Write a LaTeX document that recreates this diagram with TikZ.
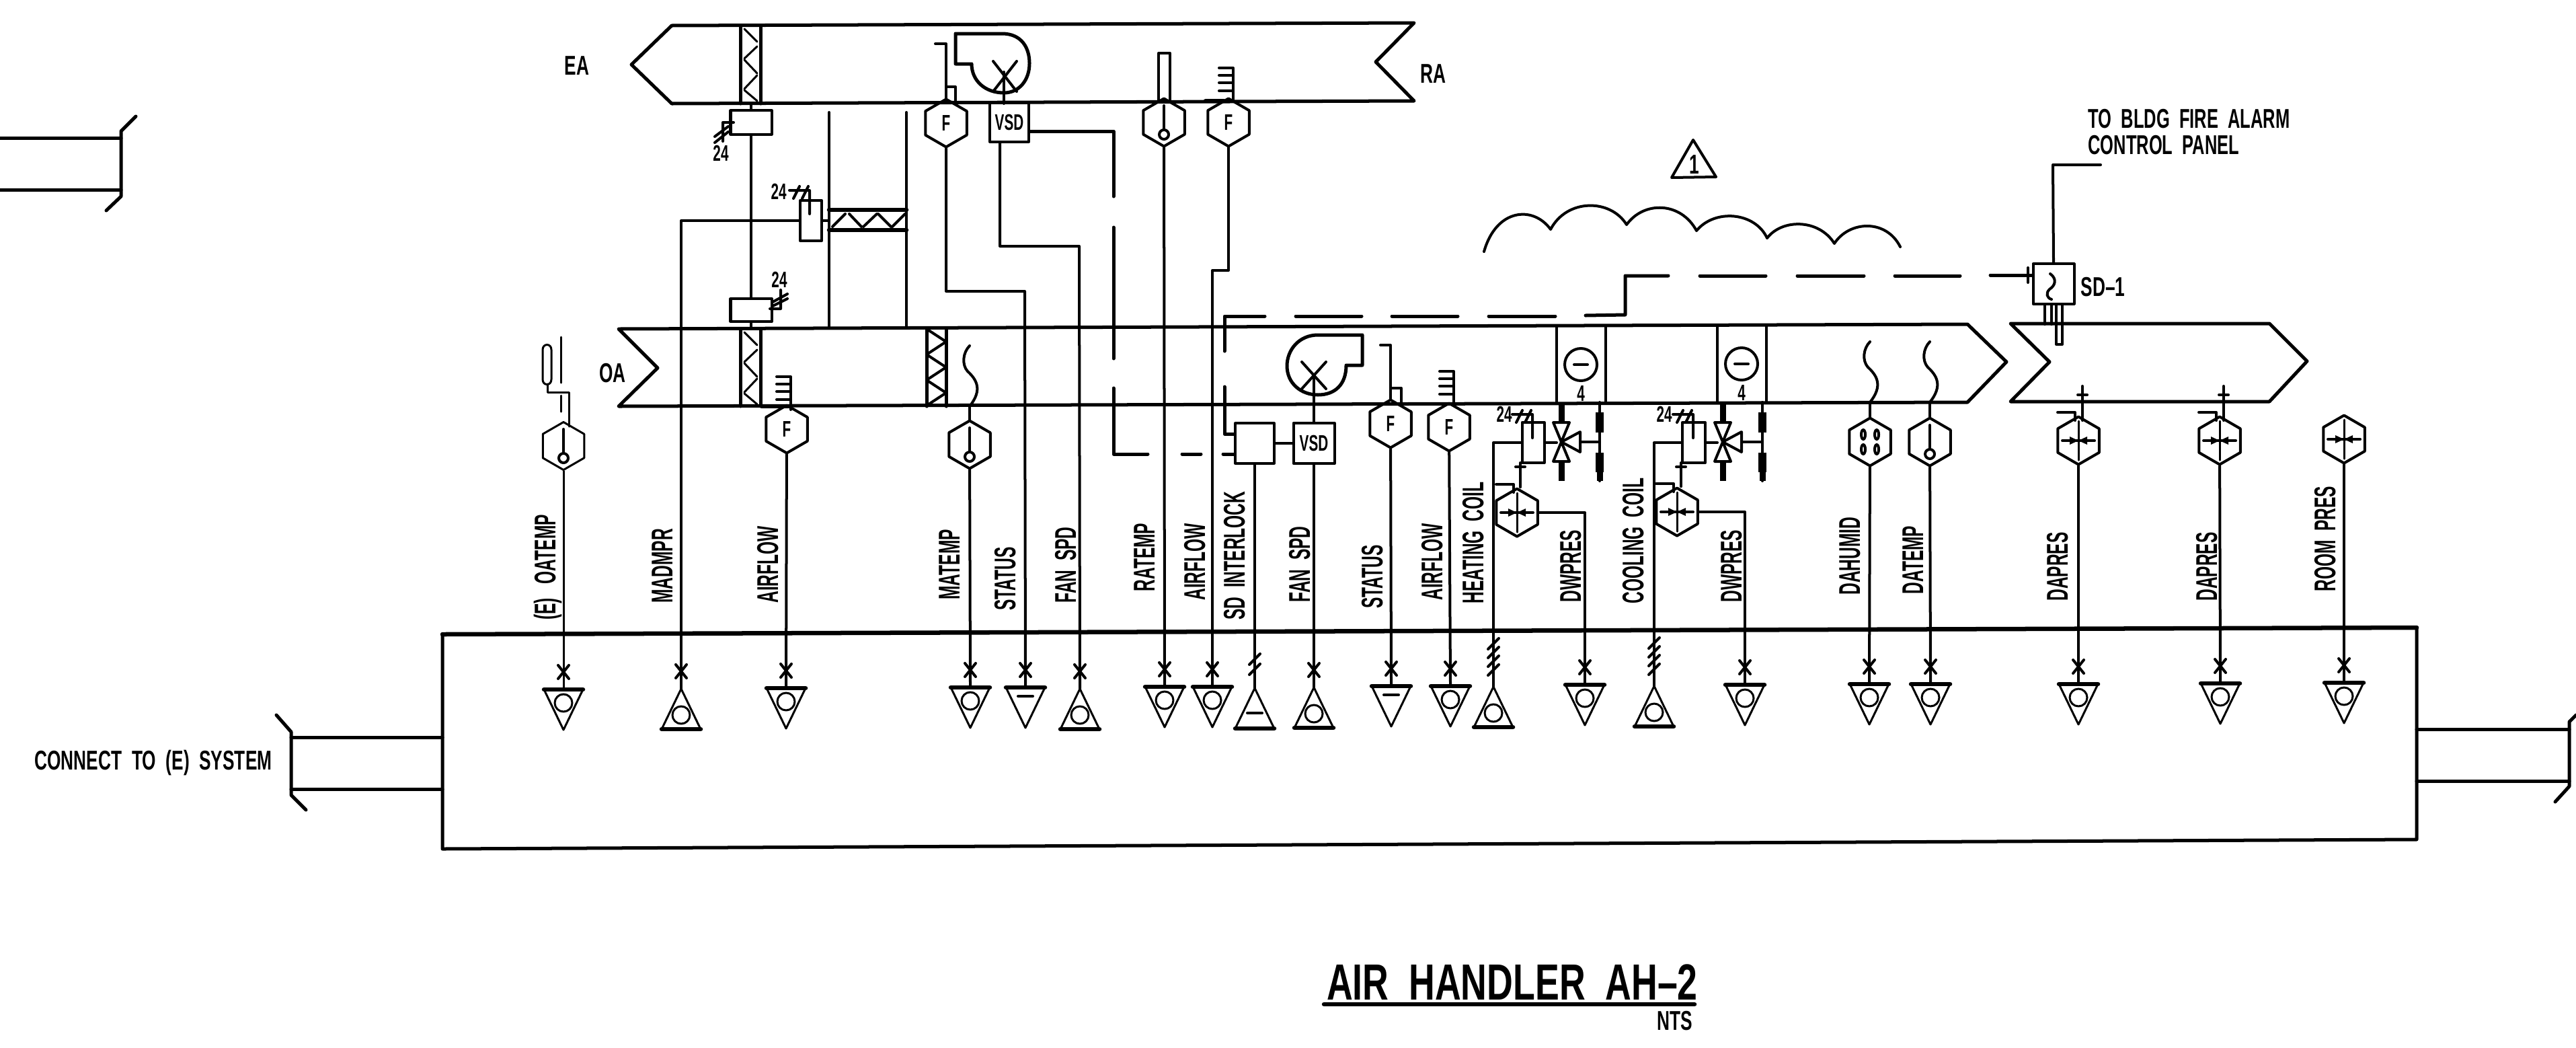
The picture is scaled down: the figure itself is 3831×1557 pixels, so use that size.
\documentclass[tikz,border=0pt]{standalone}
\usepackage{fontspec}
\setmainfont{Liberation Sans}
\usetikzlibrary{shapes.geometric}
\tikzset{
	xmark/.pic={\draw[wire] (-8,-10) -- (8,10) (8,-10) -- (-8,10);},
	slash/.pic={\draw[wire] (-8,8) -- (8,-8);},
	dnO/.pic={\coordinate (-top) at (0,0);
		\draw[fine] (-29,0) -- (0,60) -- (29,0);
		\draw[bar] (-29,0) -- (29,0);
		\draw[fine] (0,20) circle [radius=13];
		\pic at (0,-26) {xmark};},
	dnBar/.pic={\coordinate (-top) at (0,0);
		\draw[fine] (-29,0) -- (0,60) -- (29,0);
		\draw[bar] (-29,0) -- (29,0);
		\draw[wire] (-11,13) -- (11,13);
		\pic at (0,-26) {xmark};},
	upO/.pic={\coordinate (-top) at (0,0);
		\draw[fine] (-29,60) -- (0,0) -- (29,60);
		\draw[bar] (-29,60) -- (29,60);
		\draw[fine] (0,39) circle [radius=13];
		\pic at (0,-26) {xmark};},
	upOfour/.pic={\coordinate (-top) at (0,0);
		\draw[fine] (-29,60) -- (0,0) -- (29,60);
		\draw[bar] (-29,60) -- (29,60);
		\draw[fine] (0,39) circle [radius=13];
		\pic at (0,-64) {slash};
		\pic at (0,-51) {slash};
		\pic at (0,-38) {slash};
		\pic at (0,-25) {slash};},
	upBartwo/.pic={\coordinate (-top) at (0,0);
		\draw[fine] (-29,60) -- (0,0) -- (29,60);
		\draw[bar] (-29,60) -- (29,60);
		\draw[wire] (-11,37) -- (11,37);
		\pic at (0,-43) {slash};
		\pic at (0,-28) {slash};},
	wave/.pic={\draw[wire] (0,0) .. controls (20,-25) and (10,-40) .. (-3,-52) .. controls (-12,-62) and (-10,-80) .. (0,-90);},
	bulbmark/.pic={\draw[wire] (0,-25) -- (0,11);
		\draw[wire,fill=white] (0,18) circle [radius=7];},
	dpmark/.pic={\draw[fine] (0,-29) -- (0,29);
		\draw[wire] (-24,0) -- (24,0);
		\fill (-13,-6) -- (0,0) -- (-13,6) -- cycle (13,-6) -- (0,0) -- (13,6) -- cycle;},
	humidmark/.pic={\draw[wire] (-10,-11) ellipse [x radius=3, y radius=7] (10,-11) ellipse [x radius=3, y radius=7] (-10,11) ellipse [x radius=3, y radius=7] (10,11) ellipse [x radius=3, y radius=7];},
	dpstub/.pic={\draw[wire] (-31,-42) -- (-5,-42) -- (-5,-30);},
	comb/.pic={\draw[wire] (0,0) -- (0,-49) -- (-21,-49) (0,-38) -- (-21,-38) (0,-27) -- (-21,-27) (0,-15) -- (-21,-15);},
	vanes/.pic={\draw[fine] (-10,5) -- (9,24) (9,31) -- (-10,49) (-10,51) -- (9,71) (9,74) -- (-10,94) (-10,96) -- (9,112);},
	twentyfour/.pic={\draw[wire] (14,20) -- (14,-15) -- (-16,-15) (-10,-3) -- (-1,-21) (3,-3) -- (12,-21);},
	coilset/.pic={\draw[heavy] (0,-58) -- (0,-28) (0,30) -- (0,59);
		\draw[wire] (-12,-28) -- (12,-28) -- (-12,30) -- (12,30) -- cycle;
		\draw[wire] (0,1) -- (28,-14) -- (28,16) -- cycle;
		\draw[wire] (28,1) -- (#1,1) (#1,-58) -- (#1,59);
		\draw[rail] (#1,-43) -- (#1,-13) (#1,17) -- (#1,46);
		\draw[heavy] (#1,46) -- (#1,59);},
	coilbody/.pic={\draw[wire] (-36,-56) -- (-36,56) (37,-56) -- (37,56);
		\draw[wire] (0,0) circle [radius=24];
		\draw[wire] (-10,0) -- (10,0);}
}
\begin{document}
\begin{tikzpicture}[x=.01cm,
			y=-.01cm,
			line cap=round,
			line join=round,
			duct/.style={line width=.05cm},
			wire/.style={line width=.04cm},
			fine/.style={line width=.03cm},
			bar/.style={line width=.065cm},
			heavy/.style={line width=.09cm, line cap=butt},
			rail/.style={line width=.12cm, line cap=butt},
			ctl/.style={line width=.05cm},
			box/.style={draw, line width=.04cm, inner sep=0pt},
			hex/.style={draw, line width=.04cm, regular polygon, regular polygon sides=6, shape border rotate=30, minimum size=.71cm, inner sep=0pt},
			mini/.style={font=\fontsize{9.5}{11}\selectfont\bfseries, xscale=.62},
			tag/.style={rotate=90, anchor=west, inner sep=0pt, xscale=.55, text height=.32cm, text depth=0pt, font=\fontsize{12.7}{14}\selectfont\bfseries},
			note/.style={inner sep=0pt, xscale=.65, font=\fontsize{11.5}{13}\selectfont\bfseries},
			heading/.style={inner sep=0pt, xscale=.71, font=\fontsize{21.5}{24}\selectfont\bfseries}]
	\useasboundingbox (0,0) rectangle (3831,1557);
	\draw[duct] (999,38) -- (2103,34) -- (2046,92) -- (2103,150) -- (999,154) -- (939,96) -- cycle;
	\draw[duct] (920,489) -- (2926,482) -- (2984,538) -- (2926,598) -- (920,604) -- (978,547) -- cycle;
	\draw[duct] (2990,481) -- (3375,481) -- (3431,537) -- (3375,597) -- (2990,597) -- (3048,538) -- cycle;
	\draw[bar] (658,943) -- (3594,933);
	\draw[duct] (658,943) -- (658,1262) -- (3594,1248) -- (3594,933);
	\draw[duct] (0,205) -- (180,205);
	\draw[duct] (0,282) -- (180,282);
	\draw[duct] (202,173) -- (180,195) -- (180,292) -- (158,313);
	\draw[duct] (433,1096) -- (658,1096);
	\draw[duct] (433,1173) -- (658,1173);
	\draw[duct] (411,1063) -- (433,1088) -- (433,1182) -- (455,1204);
	\draw[duct] (3594,1084) -- (3821,1084);
	\draw[duct] (3594,1161) -- (3821,1161);
	\draw[duct] (3831,1063) -- (3821,1073) -- (3821,1169) -- (3800,1192);

	\node at (858,98) (ealabel) [note] {EA};
	\node at (911,555) (oalabel) [note] {OA};
	\node at (2131,110) (ralabel) [note] {RA};
	\node at (3105,177) (alarmtop) [note, anchor=west, xscale=.97] {TO~~BLDG~~FIRE~~ALARM};
	\node at (3105,216) (alarmlow) [note, anchor=west, xscale=.97] {CONTROL~~PANEL};
	\node at (3094,427) (sdlabel) [note, anchor=west] {SD--1};
	\node at (228,1134) (connlabel) [note] {CONNECT~~TO~~(E)~~SYSTEM};
	\node at (2249,1460) (title) [heading] {AIR~~HANDLER~~AH--2};
	\node at (2491,1518) (ntslabel) [note] {NTS};
	\draw[bar] (1969,1493) -- (2520,1493);
	\draw[wire] (2518,208) -- (2552,263) -- (2486,264) -- cycle;
	\node at (2520,245) (rev) [note] {1};

	\draw[wire] (2207,374) .. controls (2225,310) and (2280,305) .. (2306,341) .. controls (2330,295) and (2395,295) .. (2419,334) .. controls (2445,298) and (2500,300) .. (2523,343) .. controls (2550,310) and (2610,315) .. (2628,354) .. controls (2650,325) and (2705,325) .. (2728,362) .. controls (2750,328) and (2805,325) .. (2826,367);

	\pic (t1) at (838,1025) {dnO};
	\pic (t2) at (1013,1024) {upO};
	\pic (t3) at (1169,1023) {dnO};
	\pic (t4) at (1443,1022) {dnO};
	\pic (t5) at (1525,1022) {dnBar};
	\pic (t6) at (1606,1024) {upO};
	\pic (t7) at (1732,1021) {dnO};
	\pic (t8) at (1803,1021) {dnO};
	\pic (t9) at (1866,1023) {upBartwo};
	\pic (t10) at (1954,1022) {upO};
	\pic (t11) at (2069,1020) {dnBar};
	\pic (t12) at (2157,1020) {dnO};
	\pic (t13) at (2221,1021) {upOfour};
	\pic (t14) at (2357,1018) {dnO};
	\pic (t15) at (2460,1020) {upOfour};
	\pic (t16) at (2595,1018) {dnO};
	\pic (t17) at (2780,1017) {dnO};
	\pic (t18) at (2871,1017) {dnO};
	\pic (t19) at (3091,1017) {dnO};
	\pic (t20) at (3302,1016) {dnO};
	\pic (t21) at (3486,1015) {dnO};

	\node at (810,922) (l1) [tag] {(E)~~~OATEMP};
	\node at (984,897) (l2) [tag] {MADMPR};
	\node at (1141,897) (l3) [tag] {AIRFLOW};
	\node at (1411,892) (l4) [tag] {MATEMP};
	\node at (1494,908) (l5) [tag] {STATUS};
	\node at (1584,897) (l6) [tag] {FAN~~SPD};
	\node at (1701,880) (l7) [tag] {RATEMP};
	\node at (1776,893) (l8) [tag] {AIRFLOW};
	\node at (1835,922) (l9) [tag] {SD~~INTERLOCK};
	\node at (1932,896) (l10) [tag] {FAN~~SPD};
	\node at (2040,905) (l11) [tag] {STATUS};
	\node at (2129,893) (l12) [tag] {AIRFLOW};
	\node at (2190,898) (l13) [tag] {HEATING~~COIL};
	\node at (2335,896) (l14) [tag] {DWPRES};
	\node at (2428,898) (l15) [tag] {COOLING~~COIL};
	\node at (2574,896) (l16) [tag] {DWPRES};
	\node at (2750,885) (l17) [tag] {DAHUMID};
	\node at (2844,884) (l18) [tag] {DATEMP};
	\node at (3059,894) (l19) [tag] {DAPRES};
	\node at (3281,894) (l20) [tag] {DAPRES};
	\node at (3457,880) (l21) [tag] {ROOM~~PRES};

	\node at (838,663) (hoat) [hex, line width=.03cm] {};
	\node at (1170,638) (haf1) [hex] {};
	\node at (1170,638) (haf1text) [mini] {F};
	\node at (1442,661) (hmat) [hex] {};
	\node at (1407,183) (hst1) [hex] {};
	\node at (1407,183) (hst1text) [mini] {F};
	\node at (1731,182) (hrat) [hex] {};
	\node at (1827,182) (haf2) [hex] {};
	\node at (1827,182) (haf2text) [mini] {F};
	\node at (2068,630) (hst2) [hex] {};
	\node at (2068,630) (hst2text) [mini] {F};
	\node at (2155,635) (haf3) [hex] {};
	\node at (2155,635) (haf3text) [mini] {F};
	\node at (2256,762) (hdp1) [hex] {};
	\node at (2494,761) (hdp2) [hex] {};
	\node at (2781,657) (hhum) [hex] {};
	\node at (2870,657) (hdat) [hex] {};
	\node at (3091,655) (hdp3) [hex] {};
	\node at (3301,655) (hdp4) [hex] {};
	\node at (3486,653) (hdp5) [hex] {};
	\pic at (hoat) {bulbmark};
	\pic at (hmat) {bulbmark};
	\pic at (hrat) {bulbmark};
	\pic at (hdat) {bulbmark};
	\pic at (hhum) {humidmark};
	\pic at (hdp1) {dpmark};
	\pic at (hdp2) {dpmark};
	\pic at (hdp3) {dpmark};
	\pic at (hdp4) {dpmark};
	\pic at (hdp5) {dpmark};
	\pic at (hdp1) {dpstub};
	\pic at (hdp2) {dpstub};
	\pic at (hdp3) {dpstub};
	\pic at (hdp4) {dpstub};

	\node at (1501,182) (vsd1) [box, minimum width=.58cm, minimum height=.57cm] {};
	\node at (1501,182) (vsd1text) [mini] {VSD};
	\node at (1954,659) (vsd2) [box, minimum width=.61cm, minimum height=.6cm] {};
	\node at (1954,659) (vsd2text) [mini] {VSD};
	\node at (1866,659) (sdbox) [box, minimum width=.58cm, minimum height=.59cm] {};
	\node at (1117,182) (ea act) [box, minimum width=.61cm, minimum height=.35cm] {};
	\node at (1117,461) (oa act) [box, minimum width=.61cm, minimum height=.34cm] {};
	\node at (1206,328) (ma act) [box, minimum width=.32cm, minimum height=.6cm] {};
	\node at (2280,658) (hc act) [box, minimum width=.33cm, minimum height=.6cm] {};
	\node at (2519,658) (cc act) [box, minimum width=.34cm, minimum height=.6cm] {};
	\node at (3054,422) (sd1) [box, minimum width=.61cm, minimum height=.59cm] {};

	\draw[wire] (1117,154) -- (ea act);
	\draw[wire] (ea act) -- (oa act);
	\draw[wire] (oa act) -- (1117,489);
	\draw[wire] (ma act.west) -| (t2-top);
	\draw[wire] (ma act.east) -- (1233,328);
	\draw[wire] (1233,167) -- (1233,487);
	\draw[wire] (1348,167) -- (1348,487);
	\draw[bar] (1233,312) -- (1348,312);
	\draw[bar] (1233,342) -- (1348,342);
	\draw[wire] (1238,337) -- (1257,318) (1263,318) -- (1281,337) (1284,337) -- (1304,318) (1306,318) -- (1325,337) (1327,337) -- (1346,318);
	\draw[duct] (1101,38) -- (1101,154) (1131,38) -- (1131,154);
	\draw[duct] (1101,489) -- (1101,604) (1131,489) -- (1131,604);
	\pic at (1117,38) {vanes};
	\pic at (1117,489) {vanes};
	\draw[duct] (1378,489) -- (1378,604) (1407,489) -- (1407,604);
	\draw[wire] (1378,489) -- (1407,508) -- (1378,527) -- (1407,546) -- (1378,565) -- (1407,584) -- (1378,603);
	\draw[wire] (1091,182) -- (1075,182) -- (1075,210) (1063,203) -- (1083,188) (1063,212) -- (1083,196);
	\draw[wire] (1145,459) -- (1161,459) -- (1161,431) (1149,449) -- (1171,437) (1149,455) -- (1171,444);
	\node at (1072,228) (ea volt) [mini] {24};
	\node at (1159,416) (oa volt) [mini] {24};
	\node at (1158,285) (ma volt) [mini] {24};
	\node at (2237,616) (hc volt) [mini] {24};
	\node at (2475,616) (cc volt) [mini] {24};
	\pic at (1190,298) {twentyfour};
	\pic at (2265,631) {twentyfour};
	\pic at (2504,631) {twentyfour};

	\draw[wire] (haf1) -- (t3-top);
	\pic at (1176,609) {comb};
	\draw[bar] (1133,604) -- (1174,604);
	\draw[wire] (hmat) -- (t4-top);
	\draw[wire] (hmat.north) -- (1442,604);
	\pic at (1442,604) {wave};
	\draw[wire] (hst1) -- (1407,433) -- (1524,433) -- (t5-top);
	\draw[wire] (hst1.north) -- (1407,65) -- (1391,65);
	\draw[wire] (1407,129) -- (1421,129) -- (1421,154);
	\draw[duct] (1421,50) -- (1490,50) .. controls (1520,50) and (1531,72) .. (1531,94) .. controls (1531,120) and (1515,138) .. (1493,138) .. controls (1465,138) and (1445,120) .. (1445,95) -- (1421,95) -- cycle;
	\draw[wire] (1477,91) -- (1512,136) (1512,91) -- (1477,136);
	\draw[wire] (1493,154) -- (1493,107);
	\draw[wire] (1487,211) -- (1487,366) -- (1605,366) -- (t6-top);
	\draw[wire] (hrat) -- (t7-top);
	\draw[wire] (1723,152) -- (1723,79) -- (1740,79) -- (1740,152);
	\draw[wire] (haf2) -- (1827,402) -- (1803,402) -- (t8-top);
	\pic at (1834,150) {comb};
	\draw[bar] (1793,150) -- (1820,150);

	\draw[ctl] (vsd1.east |- 0,195) -- (1656,195) -- (1656,292);
	\draw[ctl] (1656,338) -- (1656,533);
	\draw[ctl] (1656,577) -- (1656,675) -- (1707,675);
	\draw[ctl] (1758,675) -- (1786,675);
	\draw[ctl] (1819,675) -- (sdbox.west |- 0,675);
	\draw[ctl] (sdbox.west |- 0,645) -- (1821,645) -- (1821,575);
	\draw[ctl] (1821,522) -- (1821,470) -- (1881,470);
	\draw[ctl] (1927,470) -- (2025,470);
	\draw[ctl] (2070,470) -- (2168,470);
	\draw[ctl] (2214,470) -- (2313,470);
	\draw[ctl] (2358,469) -- (2417,468) -- (2417,410) -- (2481,410);
	\draw[ctl] (2528,410) -- (2626,410);
	\draw[ctl] (2673,410) -- (2772,410);
	\draw[ctl] (2818,410) -- (2915,410);
	\draw[ctl] (2960,409) -- (sd1.west |- 0,409);
	\draw[wire] (3016,398) -- (3016,420);

	\draw[wire] (sdbox) -- (t9-top);
	\draw[wire] (sdbox) -- (vsd2);
	\draw[wire] (vsd2) -- (t10-top);
	\draw[wire] (vsd2) -- (1954,558);
	\draw[duct] (2026,498) -- (1960,498) .. controls (1932,498) and (1914,520) .. (1914,544) .. controls (1914,570) and (1935,587) .. (1960,587) .. controls (1985,587) and (2002,572) .. (2002,543) -- (2026,543) -- cycle;
	\draw[wire] (1936,538) -- (1972,578) (1972,538) -- (1936,578);
	\draw[wire] (hst2) -- (t11-top);
	\draw[wire] (hst2.north) -- (2068,513) -- (2053,513);
	\draw[wire] (2068,577) -- (2084,577) -- (2084,601);
	\draw[wire] (haf3) -- (t12-top);
	\pic at (2162,601) {comb};

	\pic at (2351,542) {coilbody};
	\node at (2351,585) (hc four) [mini] {4};
	\pic at (2322,656) {coilset=57};
	\draw[wire] (hc act.west) -| (t13-top);
	\draw[wire] (hc act.east) -- (2315,658);
	\draw[wire] (2261,688) -- (hdp1.north -| 2261,0);
	\draw[wire] (2254,694) -- (2268,694);
	\draw[wire] (hdp1.east) -| (t14-top);

	\pic at (2590,541) {coilbody};
	\node at (2590,584) (cc four) [mini] {4};
	\pic at (2562,656) {coilset=59};
	\draw[wire] (cc act.west) -| (t15-top);
	\draw[wire] (cc act.east) -- (2554,658);
	\draw[wire] (2500,688) -- (hdp2.north -| 2500,0);
	\draw[wire] (2493,694) -- (2507,694);
	\draw[wire] (hdp2.east) -| (t16-top);

	\draw[wire] (hhum) -- (t17-top);
	\draw[wire] (hhum.north) -- (2781,598);
	\pic at (2781,598) {wave};
	\draw[wire] (hdat) -- (t18-top);
	\draw[wire] (hdat.north) -- (2870,598);
	\pic at (2870,598) {wave};
	\draw[wire] (hdp3) -- (t19-top);
	\draw[wire] (3097,625) -- (3097,574) (3090,587) -- (3104,587);
	\draw[wire] (hdp4) -- (t20-top);
	\draw[wire] (3307,625) -- (3307,574) (3300,587) -- (3314,587);
	\draw[wire] (hdp5) -- (t21-top);

	\draw[wire] (sd1.north) -- (3053,245) -- (3124,245);
	\draw[wire] (3049,407) .. controls (3060,415) and (3056,425) .. (3048,430) .. controls (3042,436) and (3044,443) .. (3051,445);
	\draw[wire] (3041,452) -- (3041,482) (3051,452) -- (3051,482);
	\draw[wire] (3058,452) -- (3058,512) -- (3067,512) -- (3067,452);

	\draw[fine] (807,520) .. controls (807,510) and (820,510) .. (820,520) -- (820,564) .. controls (820,574) and (807,574) .. (807,564) -- cycle;
	\draw[fine] (834,501) -- (834,569) (834,588) -- (834,612);
	\draw[fine] (814,571) -- (814,583) -- (846,583) -- (846,634);
	\draw[fine] (hoat) -- (t1-top);
\end{tikzpicture}
\end{document}
